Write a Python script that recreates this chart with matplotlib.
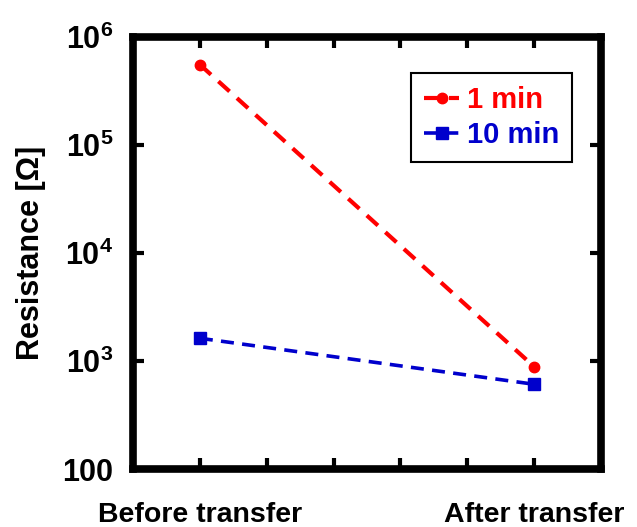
import matplotlib

matplotlib.use("Agg")
import matplotlib.pyplot as plt
from matplotlib.ticker import FixedLocator, FixedFormatter, NullLocator

plt.rcParams["font.family"] = ["Liberation Sans", "DejaVu Sans"]
plt.rcParams["font.weight"] = "bold"
plt.rcParams["mathtext.fontset"] = "custom"
plt.rcParams["mathtext.rm"] = "Liberation Sans:bold"
plt.rcParams["mathtext.bf"] = "Liberation Sans:bold"
plt.rcParams["mathtext.it"] = "Liberation Sans:bold"

stages = ["Before transfer", "After transfer"]
stage_pos = [0, 1]
one_min = [5.5e5, 885]
ten_min = [1620, 608]
y_ticks = [1e2, 1e3, 1e4, 1e5, 1e6]
y_labels = ["100", r"$10^{3}$", r"$10^{4}$", r"$10^{5}$", r"$10^{6}$"]
x_ticks = [0, 0.2, 0.4, 0.6, 0.8, 1.0]

fig = plt.figure(figsize=(6.37, 5.27), dpi=100)
ax = fig.add_axes([0.2088, 0.110, 0.7347, 0.8207])

ax.plot(stage_pos, one_min, color="#ff0000", ls=(0, (3.6, 2.4)), lw=3.0,
        marker="o", ms=7.5, label="1 min")
ax.plot(stage_pos, ten_min, color="#0000cc", ls=(0, (3.6, 2.3)), lw=2.6,
        marker="s", ms=8, label="10 min")

ax.set_yscale("log")
ax.set_ylim(100, 1e6)
ax.set_xlim(-0.2, 1.2)
ax.yaxis.set_major_locator(FixedLocator(y_ticks))
ax.yaxis.set_major_formatter(FixedFormatter(y_labels))
ax.yaxis.set_minor_locator(NullLocator())
ax.xaxis.set_major_locator(FixedLocator(x_ticks))
ax.xaxis.set_major_formatter(FixedFormatter([stages[0], "", "", "", "", stages[1]]))

for s in ax.spines.values():
    s.set_linewidth(5.5)
ax.tick_params(direction="in", length=8, width=3, top=True, right=True,
               labelsize=22)
ax.tick_params(axis="x", pad=24, labelsize=20.5)
ax.tick_params(axis="y", pad=14)

ax.set_ylabel("Resistance [\u03a9]", fontsize=22, fontweight="bold", labelpad=12)

leg = ax.legend(loc="upper right", bbox_to_anchor=(0.938, 0.916), fontsize=21,
                handlelength=1.2, handletextpad=0.25, labelcolor="linecolor",
                fancybox=False, framealpha=1, edgecolor="black",
                borderpad=0.45, labelspacing=0.25, borderaxespad=0)
leg.get_frame().set_linewidth(1.5)

fig.savefig("out.png", dpi=100)
